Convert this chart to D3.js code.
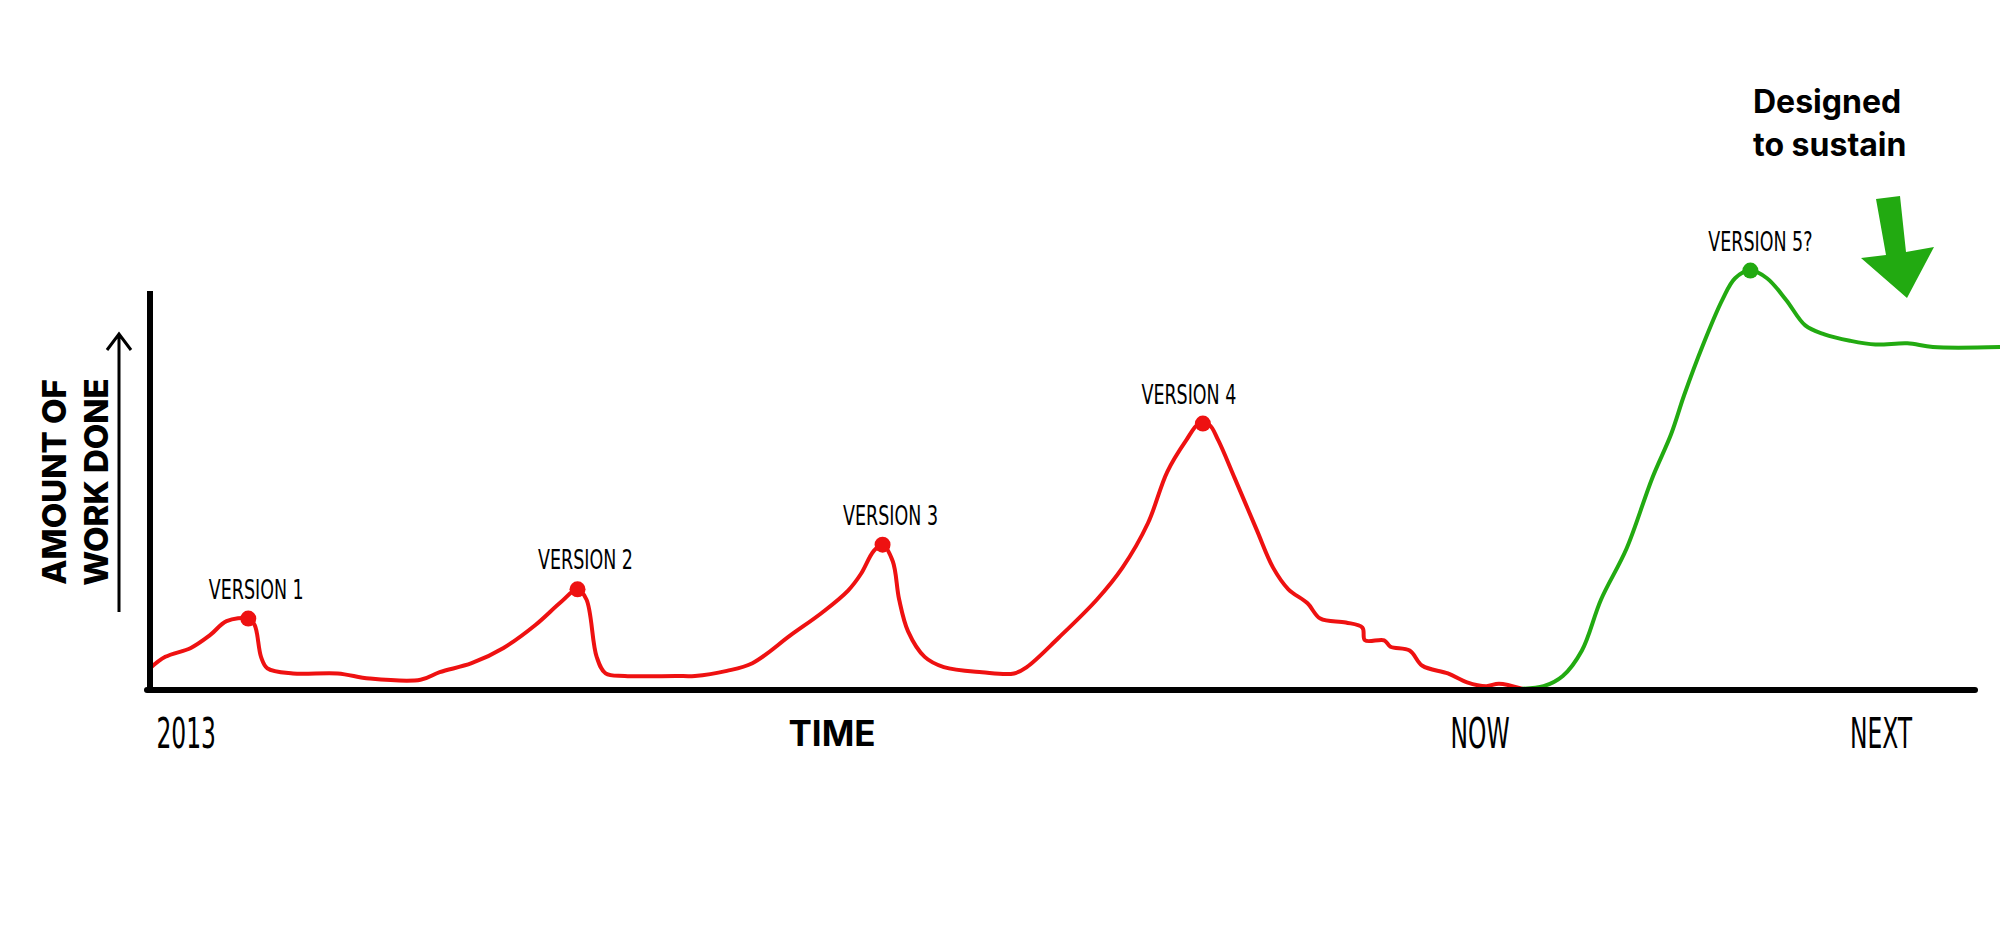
<!DOCTYPE html><html><head><meta charset="utf-8"><script src="https://cdn.jsdelivr.net/npm/d3@7"></script>
<style>body{margin:0;background:#fff}</style></head><body><svg id="c" width="2000" height="932"></svg>
<script>
// time units (arbitrary), work done units
const redTime=[118,130,150,165,178,195,200,205,210,230,265,290,330,345,370,395,420,440,453,460,468,475,490,530,545,570,590,620,645,665,675,685,692,700,705,712,725,740,770,795,805,830,860,880,900,915,930,940,948,955,968,985,998,1010,1025,1035,1055,1068,1070,1085,1090,1105,1115,1135,1150,1165,1175,1193];
const redWork=[17,26,33,43,54,56,51,26,17,13,13,9,8,14,21,33,51,69,79,71,26,13,11,11,11,15,21,43,61,78,91,109,114,101,71,46,26,18,14,13,18,41,71,96,131,171,196,209,208,196,166,126,96,79,68,56,53,49,39,39,34,31,19,13,6,3,5,1];
const greenTime=[1193,1210,1225,1240,1255,1275,1295,1310,1320,1335,1350,1360,1372,1385,1400,1415,1430,1450,1470,1495,1515,1568];
const greenWork=[1,3,11,31,71,111,166,201,231,271,306,323,329,323,306,286,279,274,271,272,269,269];
const versions=["VERSION 1","VERSION 2","VERSION 3","VERSION 4","VERSION 5?"];
const versionTime=[195,453,692,943,1372];
const versionWork=[56,79,114,209,329];
const ticks=["2013","NOW","NEXT"];
const tickTime=[123,1137,1450];

const svg=d3.select("#c");
const x=d3.scaleLinear().domain([118,1548]).range([150,1975]);
const y=d3.scaleLinear().domain([0,313]).range([690,291]);
const line=d3.line().x(d=>x(d[0])).y(d=>y(d[1])).curve(d3.curveCatmullRom);
const red="#ee1111",green="#22aa11";
svg.append("path").datum(redTime.map((t,i)=>[t,redWork[i]])).attr("d",line).attr("fill","none").attr("stroke",red).attr("stroke-width",4).attr("stroke-linejoin","round");
svg.append("path").datum(greenTime.map((t,i)=>[t,greenWork[i]])).attr("d",line).attr("fill","none").attr("stroke",green).attr("stroke-width",4).attr("stroke-linejoin","round");
svg.append("line").attr("x1",x(118)).attr("x2",x(118)).attr("y1",y(313)).attr("y2",y(0)+3).attr("stroke","#000").attr("stroke-width",6);
svg.append("line").attr("x1",x(118)-3).attr("x2",x(1548)).attr("y1",y(0)).attr("y2",y(0)).attr("stroke","#000").attr("stroke-width",6).attr("stroke-linecap","round");
const hand="'DejaVu Sans Condensed','DejaVu Sans',sans-serif";
versionTime.forEach((t,i)=>{
  svg.append("circle").attr("cx",x(t)).attr("cy",y(versionWork[i])).attr("r",8).attr("fill",i<4?red:green);
  svg.append("text").attr("transform",`translate(${x(t)+(i==3?-14:i==4?10:8)},${y(versionWork[i])-20}) scale(0.72,1)`).attr("text-anchor","middle")
   .attr("font-family",hand).attr("font-size",27).text(versions[i]);
});
ticks.forEach((t,i)=>svg.append("text").attr("transform",`translate(${x(tickTime[i])},748) scale(0.62,1)`).attr("font-family",hand).attr("font-size",42).text(t));
svg.append("text").attr("x",832).attr("y",746).attr("text-anchor","middle").attr("font-family","Inter,sans-serif").attr("font-weight",700).attr("font-size",35).text("TIME");
const yl=svg.append("g").attr("transform","translate(0,482) rotate(-90)");
yl.append("text").attr("x",0).attr("y",66).attr("text-anchor","middle").attr("font-family","Inter,sans-serif").attr("font-weight",800).attr("font-size",33).text("AMOUNT OF");
yl.append("text").attr("x",0).attr("y",108).attr("text-anchor","middle").attr("font-family","Inter,sans-serif").attr("font-weight",800).attr("font-size",33).text("WORK DONE");
svg.append("path").attr("d","M119,612 L119,334 M107,350 L119,334 L131,350").attr("fill","none").attr("stroke","#000").attr("stroke-width",3);
const an=svg.append("text").attr("font-family","Inter,sans-serif").attr("font-weight",700).attr("font-size",32);
an.append("tspan").attr("x",1753).attr("y",113).text("Designed");
an.append("tspan").attr("x",1753).attr("y",156).text("to sustain");
svg.append("path").attr("d","M1876,199 L1900,196 L1906,252 L1934,247 L1907,298 L1861,258 L1886,255 Z").attr("fill",green);
</script></body></html>
